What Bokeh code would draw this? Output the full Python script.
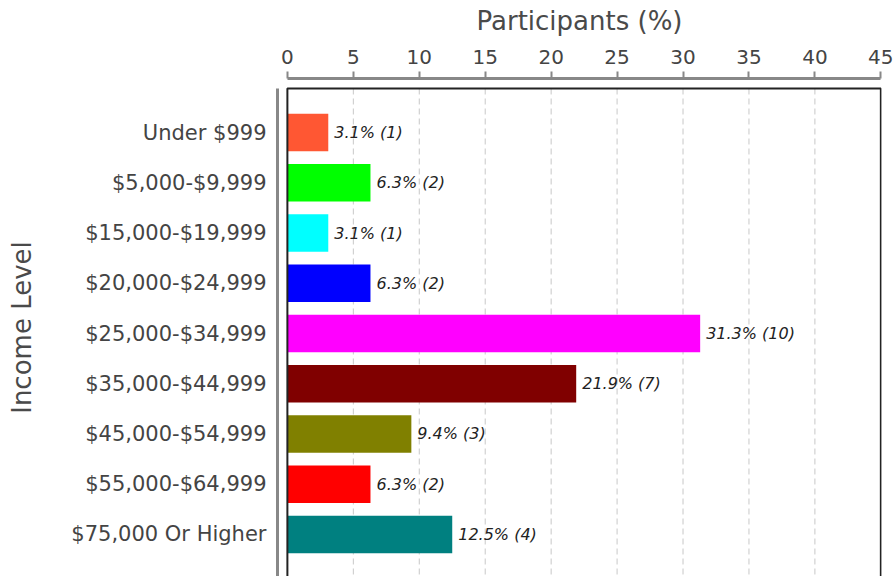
from bokeh.plotting import figure
from bokeh.models import Range1d, FixedTicker, ColumnDataSource
from bokeh.core.properties import value
from bokeh.embed import file_html
from bokeh.resources import INLINE

categories = ["Under $999", "$5,000-$9,999", "$15,000-$19,999", "$20,000-$24,999",
              "$25,000-$34,999", "$35,000-$44,999", "$45,000-$54,999",
              "$55,000-$64,999", "$75,000 Or Higher"]
percents = [3.1, 6.3, 3.1, 6.3, 31.3, 21.9, 9.4, 6.3, 12.5]
counts = [1, 2, 1, 2, 10, 7, 3, 2, 4]
colors = ["#FF5733", "#00FF00", "#00FFFF", "#0000FF", "#FF00FF",
          "#800000", "#808000", "#FF0000", "#008080"]
x_ticks = [0, 5, 10, 15, 20, 25, 30, 35, 40, 45]

FONT = "DejaVu Sans"
ypos = list(range(len(categories)))
labels = [f"{v:.1f}% ({c})" for v, c in zip(percents, counts)]

y_top_border = -0.876
y_start = 8.836
y_end = -1.075
x_max = 45

p = figure(width=895, height=576, output_backend="svg", toolbar_location=None,
           x_range=Range1d(-0.75, 45.05), y_range=Range1d(y_start, y_end),
           x_axis_location="above", min_border_left=277, min_border_right=14,
           min_border_top=78, min_border_bottom=0)
p.outline_line_color = None
p.xgrid.visible = False
p.ygrid.visible = False

# grid lines (below frame top border)
gx = [t for t in x_ticks if 0 < t < x_max]
p.segment(x0=gx, x1=gx, y0=[y_top_border] * len(gx), y1=[y_start] * len(gx),
          line_color="#c8c8c8", line_width=1, line_dash="6 4")

src = ColumnDataSource(dict(y=ypos, v=percents, c=colors, t=labels))
p.hbar(y="y", left=0, right="v", height=0.75, fill_color="c", line_color=None, source=src)
p.text(x="v", y="y", text="t", x_offset=6, text_baseline="middle", text_align="left",
       text_font=value(FONT), text_font_style="italic", text_font_size="16px",
       text_color="#222222", source=src)

# plot frame border
p.quad(left=[0], right=[x_max], top=[y_top_border], bottom=[y_start + 1],
       fill_color=None, line_color="#222222", line_width=2)

xa = p.xaxis[0]
xa.ticker = FixedTicker(ticks=x_ticks)
xa.bounds = (0, x_max)
xa.axis_line_color = "#888888"
xa.axis_line_width = 3
xa.major_tick_line_color = "#888888"
xa.major_tick_line_width = 2
xa.major_tick_in = 0
xa.major_tick_out = 7
xa.minor_tick_line_color = None
xa.major_label_text_font = FONT
xa.major_label_text_font_size = "20px"
xa.major_label_text_color = "#444444"
xa.major_label_standoff = 8
xa.axis_label = "Participants (%)"
xa.axis_label_text_font = FONT
xa.axis_label_text_font_size = "26px"
xa.axis_label_text_font_style = "normal"
xa.axis_label_text_color = "#4a4a4a"
xa.axis_label_standoff = 11

ya = p.yaxis[0]
ya.ticker = FixedTicker(ticks=ypos)
ya.major_label_overrides = {i: c for i, c in zip(ypos, categories)}
ya.bounds = (y_top_border, y_start)
ya.axis_line_color = "#888888"
ya.axis_line_width = 3
ya.major_tick_line_color = None
ya.minor_tick_line_color = None
ya.major_tick_in = 0
ya.major_tick_out = 0
ya.major_label_text_font = FONT
ya.major_label_text_font_size = "21px"
ya.major_label_text_color = "#444444"
ya.major_label_standoff = 11
ya.axis_label = "Income Level"
ya.axis_label_text_font = FONT
ya.axis_label_text_font_size = "26px"
ya.axis_label_text_font_style = "normal"
ya.axis_label_text_color = "#4a4a4a"
ya.axis_label_standoff = 31

open("out.html", "w").write(file_html(p, INLINE))
